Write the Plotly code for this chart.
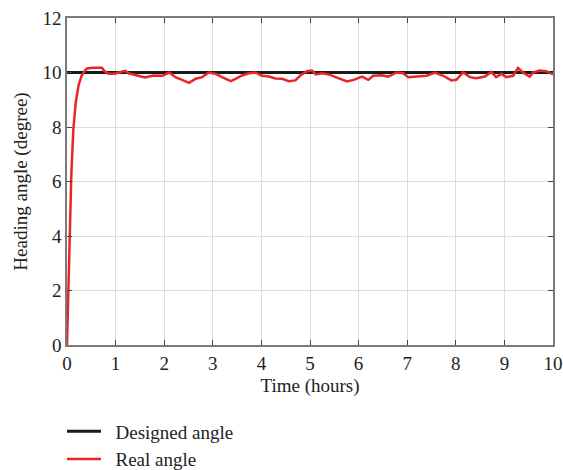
import plotly.graph_objects as go

# Designed (reference) heading angle
designed_t = [0, 10]
designed_y = [10, 10]

# Real heading angle
real_t = [0.0, 0.03, 0.06, 0.09, 0.13, 0.18, 0.24, 0.30, 0.35, 0.41, 0.55, 0.72, 0.76, 0.85, 0.94,
          1.00, 1.07, 1.20, 1.27, 1.43, 1.60, 1.78, 1.96, 2.10, 2.24, 2.37, 2.51, 2.65, 2.78, 2.92,
          3.06, 3.19, 3.37, 3.47, 3.60, 3.74, 3.88, 4.01, 4.15, 4.29, 4.43, 4.56, 4.70, 4.80, 4.94,
          5.04, 5.12, 5.25, 5.39, 5.50, 5.62, 5.76, 5.90, 6.07, 6.20, 6.30, 6.47, 6.61, 6.78, 6.92,
          7.02, 7.19, 7.40, 7.57, 7.74, 7.91, 8.01, 8.15, 8.29, 8.42, 8.60, 8.73, 8.83, 8.94, 9.04,
          9.18, 9.28, 9.38, 9.52, 9.59, 9.72, 9.86, 10.0]
real_y = [0.0, 2.4, 4.5, 6.3, 7.9, 8.9, 9.55, 9.88, 10.02, 10.15, 10.17, 10.17, 10.07, 9.95, 9.95,
          9.96, 10.0, 10.06, 9.97, 9.91, 9.82, 9.89, 9.88, 10.0, 9.82, 9.73, 9.62, 9.77, 9.83, 10.0,
          9.95, 9.83, 9.68, 9.77, 9.89, 9.97, 10.0, 9.88, 9.85, 9.78, 9.77, 9.68, 9.71, 9.89, 10.05,
          10.07, 9.93, 9.97, 9.93, 9.85, 9.78, 9.67, 9.73, 9.85, 9.73, 9.88, 9.90, 9.85, 10.0, 9.97,
          9.83, 9.85, 9.88, 10.0, 9.88, 9.71, 9.73, 10.0, 9.83, 9.79, 9.85, 10.02, 9.83, 9.95, 9.83,
          9.88, 10.17, 10.0, 9.85, 10.0, 10.07, 10.05, 9.93]

x_ticks = list(range(0, 11))
y_ticks = [0, 2, 4, 6, 8, 10, 12]

FONT = "Liberation Serif"
NB = "\u00a0\u00a0"

fig = go.Figure()
fig.add_trace(go.Scatter(x=designed_t, y=designed_y, mode="lines", name=NB + "Designed angle",
                         line=dict(color="#1a1a1a", width=3)))
fig.add_trace(go.Scatter(x=real_t, y=real_y, mode="lines", name=NB + "Real angle",
                         line=dict(color="#e8262a", width=2.5)))

axis_common = dict(showgrid=True, gridcolor="#dcdcdc", gridwidth=1, zeroline=False,
                   showline=True, linecolor="#7a7a7a", linewidth=1.5, mirror="ticks",
                   ticks="inside", ticklen=5, tickcolor="#444", tickwidth=1,
                   tickfont=dict(family=FONT, size=19, color="#222"))

fig.update_xaxes(range=[0, 10], tickvals=x_ticks,
                 title=dict(text="Time (hours)", font=dict(family=FONT, size=19, color="#222"),
                            standoff=6),
                 **axis_common)
fig.update_yaxes(range=[0, 12], tickvals=y_ticks,
                 title=dict(text="Heading angle (degree)", font=dict(family=FONT, size=19, color="#222"),
                            standoff=10),
                 **axis_common)

fig.update_layout(
    width=563, height=470,
    margin=dict(l=67, r=10, t=18, b=125, autoexpand=False),
    paper_bgcolor="white", plot_bgcolor="white",
    font=dict(family=FONT, size=19, color="#222"),
    showlegend=True,
    legend=dict(orientation="v", x=-0.0103, y=-0.206, xanchor="left", yanchor="top",
                font=dict(family=FONT, size=19, color="#222"), bgcolor="rgba(0,0,0,0)",
                tracegroupgap=0, itemwidth=34),
)

fig.write_html("out.html")
